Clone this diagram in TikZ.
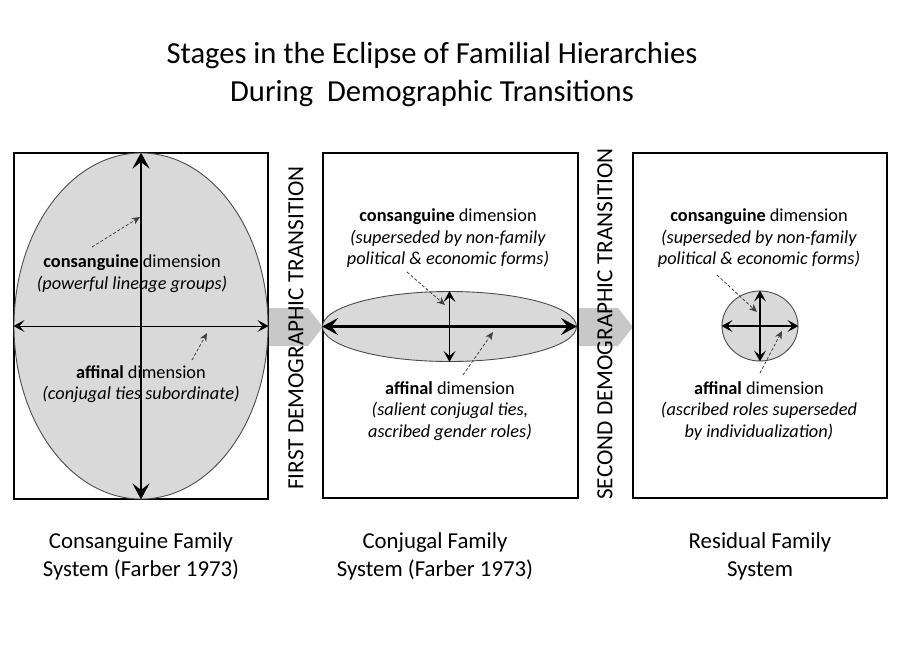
\documentclass[tikz,border=0pt]{standalone}
\usepackage{fontspec}
\setmainfont{Carlito}
\usetikzlibrary{arrows.meta,shapes.geometric}
\definecolor{ovalfill}{HTML}{D9D9D9}
\definecolor{chevgray}{HTML}{C8C8C8}
\definecolor{dashgray}{HTML}{404040}
\begin{document}
\begin{tikzpicture}[x=1pt,y=-1pt,
  frame/.style={draw,line width=1.8pt,minimum width=254pt,minimum height=346pt,inner sep=0pt},
  oval/.style={ellipse,draw=black!70,fill=ovalfill,line width=0.9pt,inner sep=0pt},
  bigarr/.style={{Stealth[length=16pt,width=17pt,inset=6.5pt]}-{Stealth[length=16pt,width=17pt,inset=6.5pt]},line width=2.8pt},
  smallarr/.style={{Stealth[length=11pt,width=12pt,inset=5pt]}-{Stealth[length=11pt,width=12pt,inset=5pt]},line width=1.3pt},
  dasharr/.style={-{Stealth[length=8pt,width=7pt,inset=2.5pt]},dashed,dash pattern=on 3pt off 2pt,line width=0.8pt,draw=dashgray},
  lbl/.style={align=center,inner sep=0pt,font=\fontsize{18.3}{21.5}\selectfont},
  captext/.style={align=center,inner sep=0pt,font=\fontsize{22.8}{28}\selectfont},
  vtext/.style={rotate=90,inner sep=0pt,font=\fontsize{23.2}{26}\selectfont},
  ttl/.style={align=center,inner sep=0pt,font=\fontsize{30.6}{37}\selectfont}
]
\useasboundingbox (0,0) rectangle (900,657);

% title
\node[ttl] (title) at (432,74.5) {Stages in the Eclipse of Familial Hierarchies\\During\ \ Demographic Transitions};

% chevrons
\fill[chevgray] (268,308) -- (308,308) -- (323,327) -- (308,346) -- (268,346) -- cycle;
\fill[chevgray] (578,308) -- (618,308) -- (633,327) -- (618,346) -- (578,346) -- cycle;

% frames
\node[frame] (b1) at (141,326) {};
\node[frame,minimum width=255pt,minimum height=345pt] (b2) at (450.5,325.5) {};
\node[frame,minimum height=345pt] (b3) at (760,325.5) {};

% ovals
\node[oval,minimum width=254pt,minimum height=346pt] (e1) at (141,326) {};
\node[oval,minimum width=254pt,minimum height=70pt] (e2) at (449.5,326.5) {};
\node[oval,minimum width=76pt,minimum height=70pt] (e3) at (760,326) {};

% axes
\draw[bigarr] (e1.north) -- (e1.south);
\draw[smallarr,line width=1pt] (e1.west) -- (e1.east);
\draw[bigarr] (e2.west) -- (e2.east);
\draw[smallarr] (e2.north) -- (e2.south);
\draw[smallarr] (e3.north) -- (e3.south);
\draw[smallarr] (e3.west) -- (e3.east);

% vertical transition labels
\node[vtext] (t1) at (296,328) {FIRST DEMOGRAPHIC TRANSITION};
\node[vtext] (t2) at (605,324) {SECOND DEMOGRAPHIC TRANSITION};

% labels box 1
\node[lbl] (c1) at (132,273.5) {\textbf{consanguine} dimension\\\textit{(powerful lineage groups)}};
\node[lbl] (a1) at (141,384) {\textbf{affinal} dimension\\\textit{(conjugal ties subordinate)}};
% labels box 2
\node[lbl] (c2) at (448,238.5) {\textbf{consanguine} dimension\\\textit{(superseded by non-family}\\\textit{political \& economic forms)}};
\node[lbl] (a2) at (450,411) {\textbf{affinal} dimension\\\textit{(salient conjugal ties,}\\\textit{ascribed gender roles)}};
% labels box 3
\node[lbl] (c3) at (759,238.5) {\textbf{consanguine} dimension\\\textit{(superseded by non-family}\\\textit{political \& economic forms)}};
\node[lbl] (a3) at (759,411) {\textbf{affinal} dimension\\\textit{(ascribed roles superseded}\\\textit{by individualization)}};

% dashed pointer coordinates
\coordinate (p1s) at (92,247);  \coordinate (p1e) at (140,217);
\coordinate (p2s) at (192,360); \coordinate (p2e) at (207,333);
\coordinate (p3s) at (407,272); \coordinate (p3e) at (445,305);
\coordinate (p4s) at (463,375); \coordinate (p4e) at (493,332);
\coordinate (p5s) at (717,275); \coordinate (p5e) at (757,312);
\coordinate (p6s) at (760,373); \coordinate (p6e) at (782,331);
\draw[dasharr] (p1s) -- (p1e);
\draw[dasharr] (p2s) -- (p2e);
\draw[dasharr] (p3s) -- (p3e);
\draw[dasharr] (p4s) -- (p4e);
\draw[dasharr] (p5s) -- (p5e);
\draw[dasharr] (p6s) -- (p6e);

% captions
\node[captext] (s1) at (141,556) {Consanguine Family\\System (Farber 1973)};
\node[captext] (s2) at (435,556) {Conjugal Family\\System (Farber 1973)};
\node[captext] (s3) at (760,556) {Residual Family\\System};
\end{tikzpicture}
\end{document}
